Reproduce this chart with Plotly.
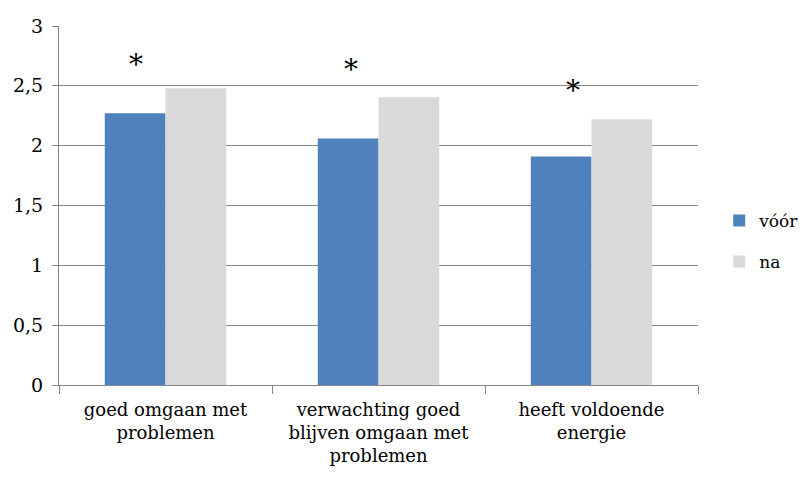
import plotly.graph_objects as go

categories = ["goed omgaan met<br>problemen",
              "verwachting goed<br>blijven omgaan met<br>problemen",
              "heeft voldoende<br>energie"]
voor = [2.27, 2.06, 1.91]
na = [2.48, 2.405, 2.22]
star_y = [2.675, 2.64, 2.465]
series_names = ["vóór", "na"]

FONT = "DejaVu Serif"
STAR_SHIFT = [-30, -28, -19]

fig = go.Figure()
fig.add_trace(go.Bar(x=categories, y=voor, name=series_names[0],
                     marker=dict(color="#4F81BD", line=dict(width=0)),
                     legendgroup="a"))
fig.add_trace(go.Bar(x=categories, y=na, name=series_names[1],
                     marker=dict(color="#D9D9D9", line=dict(width=0)),
                     legendgroup="b"))

for c, sy, sh in zip(categories, star_y, STAR_SHIFT):
    fig.add_annotation(x=c, y=sy, text="*", showarrow=False, xshift=sh,
                       font=dict(family=FONT, size=28, color="black"))

fig.update_layout(
    width=800, height=478,
    margin=dict(l=59, r=102, t=26, b=93),
    paper_bgcolor="white", plot_bgcolor="white",
    font=dict(family=FONT, size=18, color="black"),
    separators=",.",
    barmode="group", bargap=0.43, bargroupgap=0,
    legend=dict(xref="container", yref="container", x=0.899, y=0.495,
                xanchor="left", yanchor="middle",
                tracegroupgap=16, font=dict(family=FONT, size=17),
                bgcolor="rgba(0,0,0,0)"),
    showlegend=True,
)
fig.update_xaxes(showline=True, linecolor="#868686", linewidth=1,
                 ticks="outside", tickson="boundaries", ticklen=8,
                 tickcolor="#868686", showgrid=False, automargin=False,
                 ticklabelstandoff=8,
                 tickfont=dict(family=FONT, size=18))
fig.update_yaxes(range=[0, 3], dtick=0.5, showline=True, linecolor="#868686",
                 linewidth=1, ticks="outside", ticklen=6, tickcolor="#868686",
                 showgrid=True, gridcolor="#868686", gridwidth=1,
                 zeroline=False, automargin=False, ticklabelstandoff=5,
                 tickfont=dict(family=FONT, size=19))

fig.write_html("out.html", config={"displayModeBar": False},
               post_script="document.body.style.margin='0';")
